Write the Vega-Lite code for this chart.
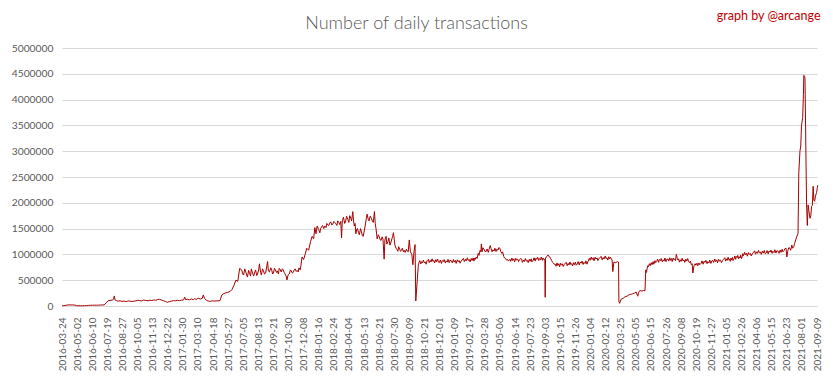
{
  "$schema": "https://vega.github.io/schema/vega-lite/v6.json",
  "width": 756,
  "height": 258,
  "autosize": {"type": "none"},
  "padding": {"left": 62, "top": 48, "right": 15, "bottom": 73},
  "background": "white",
  "config": {"view": {"stroke": null}},
  "data": {"values": [
    {"date": "2016-03-24", "tx": 3000}, {"date": "2016-03-28", "tx": 8000},
    {"date": "2016-04-01", "tx": 10000}, {"date": "2016-04-06", "tx": 18000}, {"date": "2016-04-11", "tx": 22000}, {"date": "2016-04-16", "tx": 20000}, {"date": "2016-04-21", "tx": 21000}, {"date": "2016-04-26", "tx": 18000},
    {"date": "2016-05-01", "tx": 6000}, {"date": "2016-05-06", "tx": 4000}, {"date": "2016-05-11", "tx": 5000}, {"date": "2016-05-16", "tx": 6000}, {"date": "2016-05-21", "tx": 5000}, {"date": "2016-05-26", "tx": 7000},
    {"date": "2016-06-01", "tx": 12000}, {"date": "2016-06-06", "tx": 14000}, {"date": "2016-06-11", "tx": 15000}, {"date": "2016-06-16", "tx": 16000}, {"date": "2016-06-21", "tx": 15000}, {"date": "2016-06-26", "tx": 17000},
    {"date": "2016-07-01", "tx": 18000}, {"date": "2016-07-06", "tx": 20000}, {"date": "2016-07-11", "tx": 22000}, {"date": "2016-07-16", "tx": 60000}, {"date": "2016-07-21", "tx": 100000}, {"date": "2016-07-26", "tx": 110000},
    {"date": "2016-08-01", "tx": 115000}, {"date": "2016-08-04", "tx": 130000}, {"date": "2016-08-06", "tx": 195000}, {"date": "2016-08-08", "tx": 120000}, {"date": "2016-08-11", "tx": 105000}, {"date": "2016-08-16", "tx": 95000}, {"date": "2016-08-21", "tx": 100000}, {"date": "2016-08-26", "tx": 90000},
    {"date": "2016-09-01", "tx": 95000}, {"date": "2016-09-06", "tx": 85000}, {"date": "2016-09-11", "tx": 100000}, {"date": "2016-09-16", "tx": 92000}, {"date": "2016-09-21", "tx": 88000}, {"date": "2016-09-26", "tx": 95000},
    {"date": "2016-10-01", "tx": 100000}, {"date": "2016-10-06", "tx": 110000}, {"date": "2016-10-11", "tx": 105000}, {"date": "2016-10-16", "tx": 98000}, {"date": "2016-10-21", "tx": 115000}, {"date": "2016-10-26", "tx": 108000},
    {"date": "2016-11-01", "tx": 100000}, {"date": "2016-11-06", "tx": 112000}, {"date": "2016-11-11", "tx": 105000}, {"date": "2016-11-16", "tx": 118000}, {"date": "2016-11-21", "tx": 110000}, {"date": "2016-11-26", "tx": 125000},
    {"date": "2016-12-01", "tx": 130000}, {"date": "2016-12-06", "tx": 115000}, {"date": "2016-12-11", "tx": 100000}, {"date": "2016-12-16", "tx": 90000}, {"date": "2016-12-21", "tx": 70000}, {"date": "2016-12-26", "tx": 85000},
    {"date": "2017-01-01", "tx": 95000}, {"date": "2017-01-06", "tx": 105000}, {"date": "2017-01-11", "tx": 100000}, {"date": "2017-01-16", "tx": 110000}, {"date": "2017-01-21", "tx": 105000}, {"date": "2017-01-26", "tx": 112000},
    {"date": "2017-02-01", "tx": 120000}, {"date": "2017-02-04", "tx": 170000}, {"date": "2017-02-06", "tx": 125000}, {"date": "2017-02-11", "tx": 130000}, {"date": "2017-02-16", "tx": 120000}, {"date": "2017-02-21", "tx": 135000}, {"date": "2017-02-26", "tx": 125000},
    {"date": "2017-03-01", "tx": 140000}, {"date": "2017-03-06", "tx": 130000}, {"date": "2017-03-11", "tx": 150000}, {"date": "2017-03-16", "tx": 135000}, {"date": "2017-03-21", "tx": 145000}, {"date": "2017-03-24", "tx": 214000}, {"date": "2017-03-27", "tx": 150000},
    {"date": "2017-04-01", "tx": 110000}, {"date": "2017-04-06", "tx": 95000}, {"date": "2017-04-11", "tx": 90000}, {"date": "2017-04-16", "tx": 100000}, {"date": "2017-04-21", "tx": 95000}, {"date": "2017-04-26", "tx": 98000},
    {"date": "2017-05-01", "tx": 100000}, {"date": "2017-05-06", "tx": 105000}, {"date": "2017-05-11", "tx": 215000}, {"date": "2017-05-16", "tx": 240000}, {"date": "2017-05-21", "tx": 255000}, {"date": "2017-05-26", "tx": 265000},
    {"date": "2017-06-01", "tx": 280000}, {"date": "2017-06-06", "tx": 320000}, {"date": "2017-06-11", "tx": 400000}, {"date": "2017-06-16", "tx": 500000}, {"date": "2017-06-21", "tx": 480000}, {"date": "2017-06-26", "tx": 730000},
    {"date": "2017-07-01", "tx": 700000}, {"date": "2017-07-04", "tx": 620000}, {"date": "2017-07-06", "tx": 600000}, {"date": "2017-07-09", "tx": 720000}, {"date": "2017-07-11", "tx": 680000}, {"date": "2017-07-14", "tx": 600000}, {"date": "2017-07-16", "tx": 560000}, {"date": "2017-07-19", "tx": 690000}, {"date": "2017-07-21", "tx": 650000}, {"date": "2017-07-24", "tx": 580000}, {"date": "2017-07-26", "tx": 720000}, {"date": "2017-07-29", "tx": 640000},
    {"date": "2017-08-01", "tx": 580000}, {"date": "2017-08-04", "tx": 660000}, {"date": "2017-08-06", "tx": 700000}, {"date": "2017-08-09", "tx": 590000}, {"date": "2017-08-11", "tx": 620000}, {"date": "2017-08-14", "tx": 700000}, {"date": "2017-08-16", "tx": 817000}, {"date": "2017-08-19", "tx": 650000}, {"date": "2017-08-21", "tx": 600000}, {"date": "2017-08-24", "tx": 720000}, {"date": "2017-08-26", "tx": 690000}, {"date": "2017-08-29", "tx": 620000},
    {"date": "2017-09-01", "tx": 640000}, {"date": "2017-09-06", "tx": 862000}, {"date": "2017-09-08", "tx": 680000}, {"date": "2017-09-11", "tx": 660000}, {"date": "2017-09-14", "tx": 740000}, {"date": "2017-09-16", "tx": 720000}, {"date": "2017-09-19", "tx": 620000}, {"date": "2017-09-21", "tx": 640000}, {"date": "2017-09-24", "tx": 730000}, {"date": "2017-09-26", "tx": 700000}, {"date": "2017-09-29", "tx": 650000},
    {"date": "2017-10-01", "tx": 680000}, {"date": "2017-10-04", "tx": 620000}, {"date": "2017-10-06", "tx": 730000}, {"date": "2017-10-09", "tx": 700000}, {"date": "2017-10-11", "tx": 660000}, {"date": "2017-10-14", "tx": 720000}, {"date": "2017-10-16", "tx": 700000}, {"date": "2017-10-19", "tx": 650000}, {"date": "2017-10-21", "tx": 620000}, {"date": "2017-10-24", "tx": 580000}, {"date": "2017-10-26", "tx": 505000}, {"date": "2017-10-29", "tx": 600000},
    {"date": "2017-11-01", "tx": 620000}, {"date": "2017-11-04", "tx": 700000}, {"date": "2017-11-06", "tx": 680000}, {"date": "2017-11-09", "tx": 640000}, {"date": "2017-11-11", "tx": 650000}, {"date": "2017-11-14", "tx": 700000}, {"date": "2017-11-16", "tx": 720000}, {"date": "2017-11-19", "tx": 670000}, {"date": "2017-11-21", "tx": 690000}, {"date": "2017-11-24", "tx": 660000}, {"date": "2017-11-26", "tx": 740000}, {"date": "2017-11-29", "tx": 700000},
    {"date": "2017-12-01", "tx": 780000}, {"date": "2017-12-04", "tx": 950000}, {"date": "2017-12-08", "tx": 900000}, {"date": "2017-12-12", "tx": 1000000}, {"date": "2017-12-16", "tx": 1120000}, {"date": "2017-12-21", "tx": 1080000}, {"date": "2017-12-26", "tx": 1250000}, {"date": "2017-12-30", "tx": 1350000},
    {"date": "2018-01-03", "tx": 1300000}, {"date": "2018-01-06", "tx": 1520000}, {"date": "2018-01-09", "tx": 1400000}, {"date": "2018-01-12", "tx": 1550000}, {"date": "2018-01-16", "tx": 1480000}, {"date": "2018-01-19", "tx": 1420000}, {"date": "2018-01-21", "tx": 1500000}, {"date": "2018-01-24", "tx": 1540000}, {"date": "2018-01-26", "tx": 1560000}, {"date": "2018-01-29", "tx": 1500000},
    {"date": "2018-02-01", "tx": 1550000}, {"date": "2018-02-04", "tx": 1520000}, {"date": "2018-02-06", "tx": 1600000}, {"date": "2018-02-09", "tx": 1570000}, {"date": "2018-02-11", "tx": 1560000}, {"date": "2018-02-14", "tx": 1610000}, {"date": "2018-02-16", "tx": 1630000}, {"date": "2018-02-19", "tx": 1570000}, {"date": "2018-02-21", "tx": 1580000}, {"date": "2018-02-24", "tx": 1640000}, {"date": "2018-02-26", "tx": 1620000},
    {"date": "2018-03-01", "tx": 1600000}, {"date": "2018-03-04", "tx": 1560000}, {"date": "2018-03-06", "tx": 1650000}, {"date": "2018-03-09", "tx": 1620000}, {"date": "2018-03-11", "tx": 1580000}, {"date": "2018-03-14", "tx": 1640000}, {"date": "2018-03-16", "tx": 1320000}, {"date": "2018-03-18", "tx": 1650000}, {"date": "2018-03-21", "tx": 1720000}, {"date": "2018-03-24", "tx": 1600000}, {"date": "2018-03-26", "tx": 1620000}, {"date": "2018-03-29", "tx": 1740000},
    {"date": "2018-04-01", "tx": 1680000}, {"date": "2018-04-04", "tx": 1620000}, {"date": "2018-04-06", "tx": 1750000}, {"date": "2018-04-09", "tx": 1700000}, {"date": "2018-04-11", "tx": 1650000}, {"date": "2018-04-14", "tx": 1830000}, {"date": "2018-04-16", "tx": 1650000}, {"date": "2018-04-18", "tx": 1550000}, {"date": "2018-04-20", "tx": 1600000}, {"date": "2018-04-22", "tx": 1400000}, {"date": "2018-04-24", "tx": 1480000}, {"date": "2018-04-26", "tx": 1500000}, {"date": "2018-04-29", "tx": 1420000},
    {"date": "2018-05-01", "tx": 1380000}, {"date": "2018-05-04", "tx": 1500000}, {"date": "2018-05-06", "tx": 1450000}, {"date": "2018-05-09", "tx": 1360000}, {"date": "2018-05-11", "tx": 1350000}, {"date": "2018-05-14", "tx": 1470000}, {"date": "2018-05-16", "tx": 1550000}, {"date": "2018-05-19", "tx": 1700000}, {"date": "2018-05-21", "tx": 1780000}, {"date": "2018-05-24", "tx": 1680000}, {"date": "2018-05-26", "tx": 1650000}, {"date": "2018-05-29", "tx": 1740000},
    {"date": "2018-06-01", "tx": 1700000}, {"date": "2018-06-04", "tx": 1640000}, {"date": "2018-06-06", "tx": 1620000}, {"date": "2018-06-09", "tx": 1830000}, {"date": "2018-06-11", "tx": 1600000}, {"date": "2018-06-13", "tx": 1500000}, {"date": "2018-06-16", "tx": 1300000}, {"date": "2018-06-19", "tx": 1380000}, {"date": "2018-06-21", "tx": 1350000}, {"date": "2018-06-24", "tx": 1280000}, {"date": "2018-06-26", "tx": 1270000}, {"date": "2018-06-29", "tx": 1340000},
    {"date": "2018-07-01", "tx": 1300000}, {"date": "2018-07-04", "tx": 908000}, {"date": "2018-07-06", "tx": 1280000}, {"date": "2018-07-09", "tx": 1350000}, {"date": "2018-07-11", "tx": 1200000}, {"date": "2018-07-14", "tx": 1250000}, {"date": "2018-07-16", "tx": 1320000}, {"date": "2018-07-19", "tx": 1180000}, {"date": "2018-07-21", "tx": 1220000}, {"date": "2018-07-24", "tx": 1300000}, {"date": "2018-07-26", "tx": 1350000}, {"date": "2018-07-28", "tx": 1420000},
    {"date": "2018-08-01", "tx": 1180000}, {"date": "2018-08-04", "tx": 1120000}, {"date": "2018-08-06", "tx": 1100000}, {"date": "2018-08-09", "tx": 1060000}, {"date": "2018-08-11", "tx": 1150000}, {"date": "2018-08-14", "tx": 1100000}, {"date": "2018-08-16", "tx": 1060000}, {"date": "2018-08-19", "tx": 1080000}, {"date": "2018-08-21", "tx": 1120000}, {"date": "2018-08-24", "tx": 1050000}, {"date": "2018-08-26", "tx": 1080000}, {"date": "2018-08-29", "tx": 1040000},
    {"date": "2018-09-01", "tx": 1100000}, {"date": "2018-09-04", "tx": 1060000}, {"date": "2018-09-06", "tx": 1050000}, {"date": "2018-09-09", "tx": 1280000}, {"date": "2018-09-12", "tx": 1050000}, {"date": "2018-09-16", "tx": 1000000}, {"date": "2018-09-19", "tx": 800000}, {"date": "2018-09-22", "tx": 1050000}, {"date": "2018-09-25", "tx": 1190000}, {"date": "2018-09-27", "tx": 97000},
    {"date": "2018-10-04", "tx": 778000}, {"date": "2018-10-06", "tx": 845000}, {"date": "2018-10-08", "tx": 880000}, {"date": "2018-10-11", "tx": 815000}, {"date": "2018-10-13", "tx": 860000}, {"date": "2018-10-16", "tx": 835000}, {"date": "2018-10-18", "tx": 890000}, {"date": "2018-10-21", "tx": 840000}, {"date": "2018-10-23", "tx": 855000}, {"date": "2018-10-26", "tx": 810000}, {"date": "2018-10-28", "tx": 875000},
    {"date": "2018-11-01", "tx": 905000}, {"date": "2018-11-03", "tx": 840000}, {"date": "2018-11-06", "tx": 885000}, {"date": "2018-11-08", "tx": 855000}, {"date": "2018-11-11", "tx": 915000}, {"date": "2018-11-13", "tx": 865000}, {"date": "2018-11-16", "tx": 880000}, {"date": "2018-11-18", "tx": 835000}, {"date": "2018-11-21", "tx": 900000}, {"date": "2018-11-23", "tx": 860000}, {"date": "2018-11-26", "tx": 910000}, {"date": "2018-11-28", "tx": 850000},
    {"date": "2018-12-01", "tx": 845000}, {"date": "2018-12-03", "tx": 890000}, {"date": "2018-12-06", "tx": 825000}, {"date": "2018-12-08", "tx": 880000}, {"date": "2018-12-11", "tx": 860000}, {"date": "2018-12-13", "tx": 900000}, {"date": "2018-12-16", "tx": 835000}, {"date": "2018-12-18", "tx": 875000}, {"date": "2018-12-21", "tx": 850000}, {"date": "2018-12-23", "tx": 905000}, {"date": "2018-12-26", "tx": 840000}, {"date": "2018-12-28", "tx": 885000},
    {"date": "2019-01-01", "tx": 875000}, {"date": "2019-01-03", "tx": 835000}, {"date": "2019-01-06", "tx": 900000}, {"date": "2019-01-08", "tx": 850000}, {"date": "2019-01-11", "tx": 885000}, {"date": "2019-01-13", "tx": 825000}, {"date": "2019-01-16", "tx": 895000}, {"date": "2019-01-18", "tx": 860000}, {"date": "2019-01-21", "tx": 880000}, {"date": "2019-01-23", "tx": 830000}, {"date": "2019-01-26", "tx": 870000}, {"date": "2019-01-28", "tx": 890000},
    {"date": "2019-02-01", "tx": 925000}, {"date": "2019-02-03", "tx": 860000}, {"date": "2019-02-06", "tx": 905000}, {"date": "2019-02-08", "tx": 875000}, {"date": "2019-02-11", "tx": 935000}, {"date": "2019-02-13", "tx": 885000}, {"date": "2019-02-16", "tx": 900000}, {"date": "2019-02-18", "tx": 855000}, {"date": "2019-02-21", "tx": 920000}, {"date": "2019-02-23", "tx": 880000}, {"date": "2019-02-26", "tx": 930000}, {"date": "2019-02-28", "tx": 870000},
    {"date": "2019-03-01", "tx": 930000}, {"date": "2019-03-03", "tx": 900000}, {"date": "2019-03-06", "tx": 950000}, {"date": "2019-03-08", "tx": 920000}, {"date": "2019-03-11", "tx": 1020000}, {"date": "2019-03-13", "tx": 980000}, {"date": "2019-03-16", "tx": 1080000}, {"date": "2019-03-18", "tx": 1050000}, {"date": "2019-03-19", "tx": 1200000}, {"date": "2019-03-21", "tx": 1050000}, {"date": "2019-03-23", "tx": 1130000}, {"date": "2019-03-26", "tx": 1100000}, {"date": "2019-03-28", "tx": 1060000},
    {"date": "2019-04-01", "tx": 1060000}, {"date": "2019-04-03", "tx": 1105000}, {"date": "2019-04-06", "tx": 1040000}, {"date": "2019-04-08", "tx": 1095000}, {"date": "2019-04-11", "tx": 1170000}, {"date": "2019-04-13", "tx": 1115000}, {"date": "2019-04-16", "tx": 1050000}, {"date": "2019-04-18", "tx": 1090000}, {"date": "2019-04-21", "tx": 1065000}, {"date": "2019-04-23", "tx": 1120000}, {"date": "2019-04-26", "tx": 1055000}, {"date": "2019-04-28", "tx": 1100000},
    {"date": "2019-05-01", "tx": 1080000}, {"date": "2019-05-03", "tx": 1130000}, {"date": "2019-05-06", "tx": 1120000}, {"date": "2019-05-08", "tx": 1060000}, {"date": "2019-05-11", "tx": 1020000}, {"date": "2019-05-13", "tx": 1050000}, {"date": "2019-05-16", "tx": 960000}, {"date": "2019-05-18", "tx": 930000}, {"date": "2019-05-21", "tx": 920000}, {"date": "2019-05-23", "tx": 890000}, {"date": "2019-05-26", "tx": 900000}, {"date": "2019-05-28", "tx": 870000},
    {"date": "2019-06-01", "tx": 905000}, {"date": "2019-06-03", "tx": 865000}, {"date": "2019-06-06", "tx": 930000}, {"date": "2019-06-08", "tx": 880000}, {"date": "2019-06-11", "tx": 915000}, {"date": "2019-06-13", "tx": 855000}, {"date": "2019-06-16", "tx": 925000}, {"date": "2019-06-18", "tx": 890000}, {"date": "2019-06-21", "tx": 910000}, {"date": "2019-06-23", "tx": 860000}, {"date": "2019-06-26", "tx": 900000}, {"date": "2019-06-28", "tx": 920000},
    {"date": "2019-07-01", "tx": 910000}, {"date": "2019-07-03", "tx": 845000}, {"date": "2019-07-06", "tx": 890000}, {"date": "2019-07-08", "tx": 860000}, {"date": "2019-07-11", "tx": 920000}, {"date": "2019-07-13", "tx": 870000}, {"date": "2019-07-16", "tx": 885000}, {"date": "2019-07-18", "tx": 840000}, {"date": "2019-07-21", "tx": 905000}, {"date": "2019-07-23", "tx": 865000}, {"date": "2019-07-26", "tx": 915000}, {"date": "2019-07-28", "tx": 855000},
    {"date": "2019-08-01", "tx": 890000}, {"date": "2019-08-03", "tx": 935000}, {"date": "2019-08-06", "tx": 870000}, {"date": "2019-08-08", "tx": 925000}, {"date": "2019-08-11", "tx": 905000}, {"date": "2019-08-13", "tx": 945000}, {"date": "2019-08-16", "tx": 880000}, {"date": "2019-08-18", "tx": 920000}, {"date": "2019-08-21", "tx": 895000}, {"date": "2019-08-23", "tx": 950000}, {"date": "2019-08-26", "tx": 885000}, {"date": "2019-08-28", "tx": 930000}, {"date": "2019-08-30", "tx": 900000},
    {"date": "2019-09-02", "tx": 900000}, {"date": "2019-09-03", "tx": 169000}, {"date": "2019-09-04", "tx": 930000}, {"date": "2019-09-06", "tx": 950000}, {"date": "2019-09-08", "tx": 960000}, {"date": "2019-09-11", "tx": 990000}, {"date": "2019-09-13", "tx": 960000}, {"date": "2019-09-16", "tx": 950000}, {"date": "2019-09-18", "tx": 920000}, {"date": "2019-09-21", "tx": 880000}, {"date": "2019-09-23", "tx": 850000}, {"date": "2019-09-26", "tx": 830000}, {"date": "2019-09-28", "tx": 810000},
    {"date": "2019-10-01", "tx": 810000}, {"date": "2019-10-03", "tx": 770000}, {"date": "2019-10-06", "tx": 835000}, {"date": "2019-10-08", "tx": 785000}, {"date": "2019-10-11", "tx": 820000}, {"date": "2019-10-13", "tx": 760000}, {"date": "2019-10-16", "tx": 830000}, {"date": "2019-10-18", "tx": 795000}, {"date": "2019-10-21", "tx": 815000}, {"date": "2019-10-23", "tx": 765000}, {"date": "2019-10-26", "tx": 805000}, {"date": "2019-10-28", "tx": 825000},
    {"date": "2019-11-01", "tx": 845000}, {"date": "2019-11-03", "tx": 780000}, {"date": "2019-11-06", "tx": 825000}, {"date": "2019-11-08", "tx": 795000}, {"date": "2019-11-11", "tx": 855000}, {"date": "2019-11-13", "tx": 805000}, {"date": "2019-11-16", "tx": 820000}, {"date": "2019-11-18", "tx": 775000}, {"date": "2019-11-21", "tx": 840000}, {"date": "2019-11-23", "tx": 800000}, {"date": "2019-11-26", "tx": 850000}, {"date": "2019-11-28", "tx": 790000},
    {"date": "2019-12-01", "tx": 815000}, {"date": "2019-12-03", "tx": 860000}, {"date": "2019-12-06", "tx": 795000}, {"date": "2019-12-08", "tx": 850000}, {"date": "2019-12-11", "tx": 830000}, {"date": "2019-12-13", "tx": 870000}, {"date": "2019-12-16", "tx": 805000}, {"date": "2019-12-18", "tx": 845000}, {"date": "2019-12-21", "tx": 820000}, {"date": "2019-12-23", "tx": 875000}, {"date": "2019-12-26", "tx": 810000}, {"date": "2019-12-28", "tx": 855000},
    {"date": "2020-01-01", "tx": 925000}, {"date": "2020-01-03", "tx": 885000}, {"date": "2020-01-06", "tx": 950000}, {"date": "2020-01-08", "tx": 900000}, {"date": "2020-01-11", "tx": 935000}, {"date": "2020-01-13", "tx": 875000}, {"date": "2020-01-16", "tx": 945000}, {"date": "2020-01-18", "tx": 910000}, {"date": "2020-01-21", "tx": 930000}, {"date": "2020-01-23", "tx": 880000}, {"date": "2020-01-26", "tx": 920000}, {"date": "2020-01-28", "tx": 940000},
    {"date": "2020-02-01", "tx": 960000}, {"date": "2020-02-03", "tx": 895000}, {"date": "2020-02-06", "tx": 940000}, {"date": "2020-02-08", "tx": 910000}, {"date": "2020-02-11", "tx": 970000}, {"date": "2020-02-13", "tx": 920000}, {"date": "2020-02-16", "tx": 935000}, {"date": "2020-02-18", "tx": 890000}, {"date": "2020-02-21", "tx": 955000}, {"date": "2020-02-23", "tx": 915000}, {"date": "2020-02-26", "tx": 945000}, {"date": "2020-02-28", "tx": 905000},
    {"date": "2020-03-01", "tx": 900000}, {"date": "2020-03-03", "tx": 667000}, {"date": "2020-03-06", "tx": 850000}, {"date": "2020-03-11", "tx": 840000}, {"date": "2020-03-16", "tx": 860000}, {"date": "2020-03-19", "tx": 850000}, {"date": "2020-03-20", "tx": 84000}, {"date": "2020-03-22", "tx": 52000}, {"date": "2020-03-26", "tx": 130000},
    {"date": "2020-04-01", "tx": 150000}, {"date": "2020-04-06", "tx": 180000}, {"date": "2020-04-11", "tx": 190000}, {"date": "2020-04-16", "tx": 215000}, {"date": "2020-04-21", "tx": 225000}, {"date": "2020-04-26", "tx": 235000},
    {"date": "2020-05-01", "tx": 250000}, {"date": "2020-05-06", "tx": 270000}, {"date": "2020-05-10", "tx": 190000}, {"date": "2020-05-13", "tx": 265000}, {"date": "2020-05-16", "tx": 300000}, {"date": "2020-05-21", "tx": 290000}, {"date": "2020-05-26", "tx": 300000}, {"date": "2020-05-30", "tx": 295000},
    {"date": "2020-06-01", "tx": 700000}, {"date": "2020-06-03", "tx": 650000}, {"date": "2020-06-06", "tx": 780000}, {"date": "2020-06-08", "tx": 760000}, {"date": "2020-06-11", "tx": 820000}, {"date": "2020-06-13", "tx": 780000}, {"date": "2020-06-16", "tx": 840000}, {"date": "2020-06-18", "tx": 800000}, {"date": "2020-06-21", "tx": 860000}, {"date": "2020-06-23", "tx": 810000}, {"date": "2020-06-26", "tx": 880000}, {"date": "2020-06-28", "tx": 840000},
    {"date": "2020-07-01", "tx": 865000}, {"date": "2020-07-03", "tx": 910000}, {"date": "2020-07-06", "tx": 845000}, {"date": "2020-07-08", "tx": 900000}, {"date": "2020-07-11", "tx": 880000}, {"date": "2020-07-13", "tx": 920000}, {"date": "2020-07-16", "tx": 855000}, {"date": "2020-07-18", "tx": 895000}, {"date": "2020-07-21", "tx": 870000}, {"date": "2020-07-23", "tx": 930000}, {"date": "2020-07-26", "tx": 860000}, {"date": "2020-07-28", "tx": 905000},
    {"date": "2020-08-01", "tx": 910000}, {"date": "2020-08-03", "tx": 870000}, {"date": "2020-08-06", "tx": 935000}, {"date": "2020-08-08", "tx": 885000}, {"date": "2020-08-11", "tx": 920000}, {"date": "2020-08-13", "tx": 860000}, {"date": "2020-08-16", "tx": 930000}, {"date": "2020-08-18", "tx": 895000}, {"date": "2020-08-21", "tx": 915000}, {"date": "2020-08-23", "tx": 880000}, {"date": "2020-08-25", "tx": 1000000}, {"date": "2020-08-28", "tx": 920000}, {"date": "2020-08-30", "tx": 890000},
    {"date": "2020-09-01", "tx": 915000}, {"date": "2020-09-03", "tx": 850000}, {"date": "2020-09-06", "tx": 895000}, {"date": "2020-09-08", "tx": 865000}, {"date": "2020-09-11", "tx": 925000}, {"date": "2020-09-13", "tx": 875000}, {"date": "2020-09-16", "tx": 890000}, {"date": "2020-09-18", "tx": 845000}, {"date": "2020-09-21", "tx": 910000}, {"date": "2020-09-23", "tx": 870000}, {"date": "2020-09-26", "tx": 920000}, {"date": "2020-09-28", "tx": 860000},
    {"date": "2020-10-01", "tx": 840000}, {"date": "2020-10-03", "tx": 870000}, {"date": "2020-10-06", "tx": 800000}, {"date": "2020-10-08", "tx": 820000}, {"date": "2020-10-10", "tx": 640000}, {"date": "2020-10-13", "tx": 780000}, {"date": "2020-10-16", "tx": 820000}, {"date": "2020-10-18", "tx": 790000}, {"date": "2020-10-21", "tx": 830000}, {"date": "2020-10-23", "tx": 780000}, {"date": "2020-10-26", "tx": 835000}, {"date": "2020-10-28", "tx": 800000},
    {"date": "2020-11-01", "tx": 830000}, {"date": "2020-11-03", "tx": 875000}, {"date": "2020-11-06", "tx": 810000}, {"date": "2020-11-08", "tx": 865000}, {"date": "2020-11-11", "tx": 845000}, {"date": "2020-11-13", "tx": 885000}, {"date": "2020-11-16", "tx": 820000}, {"date": "2020-11-18", "tx": 860000}, {"date": "2020-11-21", "tx": 835000}, {"date": "2020-11-23", "tx": 890000}, {"date": "2020-11-26", "tx": 825000}, {"date": "2020-11-28", "tx": 870000},
    {"date": "2020-12-01", "tx": 885000}, {"date": "2020-12-03", "tx": 845000}, {"date": "2020-12-06", "tx": 910000}, {"date": "2020-12-08", "tx": 860000}, {"date": "2020-12-11", "tx": 895000}, {"date": "2020-12-13", "tx": 835000}, {"date": "2020-12-16", "tx": 905000}, {"date": "2020-12-18", "tx": 870000}, {"date": "2020-12-21", "tx": 890000}, {"date": "2020-12-23", "tx": 840000}, {"date": "2020-12-26", "tx": 880000}, {"date": "2020-12-28", "tx": 900000},
    {"date": "2021-01-01", "tx": 935000}, {"date": "2021-01-03", "tx": 870000}, {"date": "2021-01-06", "tx": 915000}, {"date": "2021-01-08", "tx": 885000}, {"date": "2021-01-11", "tx": 945000}, {"date": "2021-01-13", "tx": 895000}, {"date": "2021-01-16", "tx": 910000}, {"date": "2021-01-18", "tx": 865000}, {"date": "2021-01-21", "tx": 930000}, {"date": "2021-01-23", "tx": 890000}, {"date": "2021-01-26", "tx": 940000}, {"date": "2021-01-28", "tx": 880000},
    {"date": "2021-02-01", "tx": 925000}, {"date": "2021-02-03", "tx": 970000}, {"date": "2021-02-06", "tx": 905000}, {"date": "2021-02-08", "tx": 960000}, {"date": "2021-02-11", "tx": 940000}, {"date": "2021-02-13", "tx": 980000}, {"date": "2021-02-16", "tx": 915000}, {"date": "2021-02-18", "tx": 955000}, {"date": "2021-02-21", "tx": 930000}, {"date": "2021-02-23", "tx": 985000}, {"date": "2021-02-26", "tx": 920000}, {"date": "2021-02-28", "tx": 965000},
    {"date": "2021-03-01", "tx": 1015000}, {"date": "2021-03-03", "tx": 975000}, {"date": "2021-03-06", "tx": 1040000}, {"date": "2021-03-08", "tx": 990000}, {"date": "2021-03-11", "tx": 1025000}, {"date": "2021-03-13", "tx": 965000}, {"date": "2021-03-16", "tx": 1035000}, {"date": "2021-03-18", "tx": 1000000}, {"date": "2021-03-21", "tx": 1020000}, {"date": "2021-03-23", "tx": 970000}, {"date": "2021-03-26", "tx": 1010000}, {"date": "2021-03-28", "tx": 1030000},
    {"date": "2021-04-01", "tx": 1070000}, {"date": "2021-04-03", "tx": 1005000}, {"date": "2021-04-06", "tx": 1050000}, {"date": "2021-04-08", "tx": 1020000}, {"date": "2021-04-11", "tx": 1080000}, {"date": "2021-04-13", "tx": 1030000}, {"date": "2021-04-16", "tx": 1045000}, {"date": "2021-04-18", "tx": 1000000}, {"date": "2021-04-21", "tx": 1065000}, {"date": "2021-04-23", "tx": 1025000}, {"date": "2021-04-26", "tx": 1075000}, {"date": "2021-04-28", "tx": 1015000},
    {"date": "2021-05-01", "tx": 1030000}, {"date": "2021-05-03", "tx": 1075000}, {"date": "2021-05-06", "tx": 1010000}, {"date": "2021-05-08", "tx": 1065000}, {"date": "2021-05-11", "tx": 1045000}, {"date": "2021-05-13", "tx": 1085000}, {"date": "2021-05-16", "tx": 1020000}, {"date": "2021-05-18", "tx": 1060000}, {"date": "2021-05-21", "tx": 1035000}, {"date": "2021-05-23", "tx": 1090000}, {"date": "2021-05-26", "tx": 1025000}, {"date": "2021-05-28", "tx": 1070000},
    {"date": "2021-06-01", "tx": 1060000}, {"date": "2021-06-03", "tx": 1020000}, {"date": "2021-06-06", "tx": 1085000}, {"date": "2021-06-08", "tx": 1040000}, {"date": "2021-06-11", "tx": 1100000}, {"date": "2021-06-13", "tx": 1050000}, {"date": "2021-06-16", "tx": 1075000}, {"date": "2021-06-18", "tx": 1110000}, {"date": "2021-06-21", "tx": 1120000}, {"date": "2021-06-23", "tx": 950000}, {"date": "2021-06-26", "tx": 1080000}, {"date": "2021-06-28", "tx": 1130000},
    {"date": "2021-07-01", "tx": 1120000}, {"date": "2021-07-03", "tx": 1080000}, {"date": "2021-07-06", "tx": 1180000}, {"date": "2021-07-08", "tx": 1120000}, {"date": "2021-07-11", "tx": 1150000}, {"date": "2021-07-13", "tx": 1210000}, {"date": "2021-07-16", "tx": 1280000}, {"date": "2021-07-19", "tx": 1350000}, {"date": "2021-07-22", "tx": 1400000}, {"date": "2021-07-23", "tx": 2000000}, {"date": "2021-07-24", "tx": 2580000}, {"date": "2021-07-27", "tx": 3000000}, {"date": "2021-07-29", "tx": 3100000}, {"date": "2021-07-31", "tx": 3500000},
    {"date": "2021-08-01", "tx": 3550000}, {"date": "2021-08-03", "tx": 3650000}, {"date": "2021-08-05", "tx": 4100000}, {"date": "2021-08-06", "tx": 4470000}, {"date": "2021-08-08", "tx": 4450000}, {"date": "2021-08-09", "tx": 4400000}, {"date": "2021-08-11", "tx": 3200000}, {"date": "2021-08-13", "tx": 2000000}, {"date": "2021-08-15", "tx": 1560000}, {"date": "2021-08-17", "tx": 1960000}, {"date": "2021-08-19", "tx": 1850000}, {"date": "2021-08-22", "tx": 1700000}, {"date": "2021-08-24", "tx": 1750000}, {"date": "2021-08-26", "tx": 1930000}, {"date": "2021-08-28", "tx": 1950000}, {"date": "2021-08-30", "tx": 2320000},
    {"date": "2021-09-01", "tx": 2050000}, {"date": "2021-09-03", "tx": 2030000}, {"date": "2021-09-05", "tx": 2130000}, {"date": "2021-09-08", "tx": 2200000}, {"date": "2021-09-10", "tx": 2300000}, {"date": "2021-09-11", "tx": 2340000}
  ]},
  "transform": [{"calculate": "time(toDate(datum.date))", "as": "t"}],
  "mark": {"type": "line", "color": "#a50000", "strokeWidth": 1, "interpolate": "linear"},
  "encoding": {
    "x": {
      "field": "t", "type": "quantitative",
      "scale": {
        "type": "linear", "nice": false, "zero": false,
        "domain": [1458777600000, 1462147200000, 1465516800000, 1468886400000, 1472256000000, 1475625600000, 1478995200000, 1482364800000, 1485734400000, 1489104000000, 1492473600000, 1495843200000, 1499212800000, 1502582400000, 1505952000000, 1509321600000, 1512691200000, 1516060800000, 1519430400000, 1522800000000, 1526169600000, 1529539200000, 1532908800000, 1536451200000, 1540080000000, 1543622400000, 1546992000000, 1550361600000, 1553731200000, 1557100800000, 1560470400000, 1563840000000, 1567468800000, 1571097600000, 1574726400000, 1578096000000, 1581465600000, 1585094400000, 1588636800000, 1592179200000, 1595721600000, 1599523200000, 1603065600000, 1606435200000, 1609804800000, 1614297600000, 1617667200000, 1621036800000, 1624406400000, 1627776000000, 1631145600000],
        "range": [0, 15.1, 30.2, 45.3, 60.4, 75.5, 90.6, 105.7, 120.8, 135.9, 151, 166.1, 181.2, 196.3, 211.4, 226.5, 241.6, 256.7, 271.8, 286.9, 302, 317.1, 332.2, 347.3, 362.4, 377.5, 392.6, 407.7, 422.8, 437.9, 453, 468.1, 483.2, 498.3, 513.4, 528.5, 543.6, 558.7, 573.8, 588.9, 604, 619.1, 634.2, 649.3, 664.4, 679.5, 694.6, 709.7, 724.8, 739.9, 755]
      },
      "axis": {
        "values": [1458777600000, 1462147200000, 1465516800000, 1468886400000, 1472256000000, 1475625600000, 1478995200000, 1482364800000, 1485734400000, 1489104000000, 1492473600000, 1495843200000, 1499212800000, 1502582400000, 1505952000000, 1509321600000, 1512691200000, 1516060800000, 1519430400000, 1522800000000, 1526169600000, 1529539200000, 1532908800000, 1536451200000, 1540080000000, 1543622400000, 1546992000000, 1550361600000, 1553731200000, 1557100800000, 1560470400000, 1563840000000, 1567468800000, 1571097600000, 1574726400000, 1578096000000, 1581465600000, 1585094400000, 1588636800000, 1592179200000, 1595721600000, 1599523200000, 1603065600000, 1606435200000, 1609804800000, 1614297600000, 1617667200000, 1621036800000, 1624406400000, 1627776000000, 1631145600000],
        "labelExpr": "utcFormat(datum.value, '%Y-%m-%d')",
        "labelAngle": -90, "labelOverlap": false, "labelBound": false, "labelFlush": false,
        "labelPadding": 11, "labelFont": "Lato", "labelFontSize": 10, "labelColor": "#595959",
        "ticks": false, "grid": false, "domain": true, "domainColor": "#d9d9d9", "domainWidth": 1,
        "title": "Number of daily transactions", "titleX": 354, "titleY": -278,
        "titleAlign": "center", "titleBaseline": "alphabetic", "titleAngle": 0,
        "titleFont": "Lato", "titleFontSize": 18, "titleFontWeight": 300, "titleColor": "#595959"
      }
    },
    "y": {
      "field": "tx", "type": "quantitative",
      "scale": {"domain": [0, 5000000], "nice": false},
      "axis": {
        "values": [0, 500000, 1000000, 1500000, 2000000, 2500000, 3000000, 3500000, 4000000, 4500000, 5000000],
        "format": "d", "ticks": false, "domain": false,
        "grid": true, "gridColor": "#d9d9d9", "gridWidth": 1,
        "labelFont": "Lato", "labelFontSize": 10.3, "labelColor": "#595959", "labelPadding": 9,
        "title": "graph by @arcange", "titleAngle": 0, "titleX": 758, "titleY": -29,
        "titleAlign": "right", "titleBaseline": "alphabetic", "titleColor": "#c00000",
        "titleFont": "Lato", "titleFontSize": 12.5, "titleFontWeight": "normal"
      }
    }
  }
}
